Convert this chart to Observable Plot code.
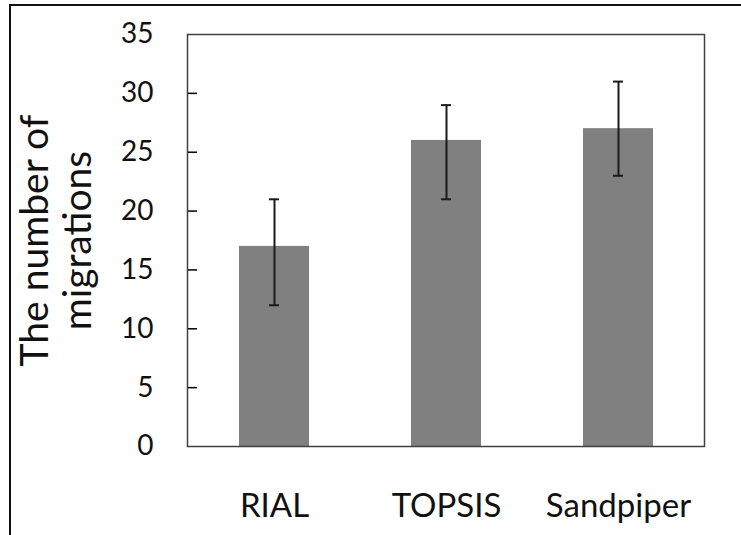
<!DOCTYPE html>
<html>
<head>
<meta charset="utf-8">
<script src="https://cdn.jsdelivr.net/npm/d3@7"></script>
<script src="https://cdn.jsdelivr.net/npm/@observablehq/plot@0.6"></script>
<style>
  html, body { margin: 0; padding: 0; background: #fff; }
  #wrap { position: relative; width: 741px; height: 535px; overflow: hidden; }
  #border { position: absolute; left: 9px; top: 4px; width: 800px; height: 600px;
            border-left: 2px solid #111; border-top: 2px solid #111; pointer-events: none; }
</style>
</head>
<body>
<div id="wrap"><div id="border"></div></div>
<script>
const categories = ["RIAL", "TOPSIS", "Sandpiper"];
const values = [17, 26, 27];
const errLow = [12, 21, 23];
const errHigh = [21, 29, 31];
const yTicks = [0, 5, 10, 15, 20, 25, 30, 35];
const innerTicks = [5, 10, 15, 20, 25, 30];
const yLabel = ["The number of", "migrations"];

const data = categories.map((c, i) => ({cat: c, value: values[i], lo: errLow[i], hi: errHigh[i]}));

const chart = Plot.plot({
  width: 741,
  height: 535,
  marginLeft: 187,
  marginRight: 37,
  marginTop: 34,
  marginBottom: 89,
  style: {fontFamily: "Lato, sans-serif", background: "transparent", color: "#111"},
  x: {domain: categories, padding: 0, label: null},
  y: {domain: [0, 35], label: null},
  marks: [
    Plot.barY(data, {x: "cat", y: "value", fill: "#808080", insetLeft: 51, insetRight: 51}),
    Plot.ruleX(data, {x: "cat", y1: "lo", y2: "hi", stroke: "#1a1a1a", strokeWidth: 2}),
    Plot.tickY(data, {x: "cat", y: "lo", stroke: "#1a1a1a", strokeWidth: 2, insetLeft: 81, insetRight: 81}),
    Plot.tickY(data, {x: "cat", y: "hi", stroke: "#1a1a1a", strokeWidth: 2, insetLeft: 81, insetRight: 81}),
    Plot.tickY(innerTicks, {y: d => d, insetRight: 507, stroke: "#000", strokeWidth: 1.5}),
    Plot.frame({stroke: "#404040", strokeWidth: 1.5}),
    Plot.axisY({ticks: yTicks, tickSize: 0, tickPadding: 34, fontSize: 28, tickFormat: d => String(d)}),
    Plot.axisX({tickSize: 0, tickPadding: 47, fontSize: 33}),
    Plot.text([yLabel.join("\n")], {frameAnchor: "left", textAnchor: "middle", rotate: -90, fontSize: 39, lineHeight: 1.1, dx: -132, text: d => d, fill: "#111"})
  ]
});
document.getElementById("wrap").prepend(chart);
</script>
</body>
</html>
